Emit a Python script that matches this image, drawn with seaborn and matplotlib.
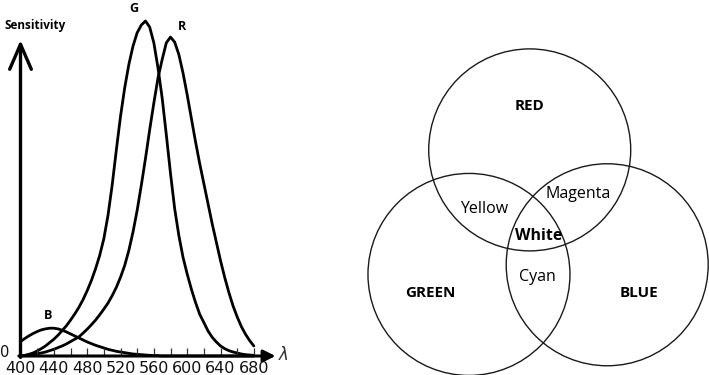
import numpy as np
import pandas as pd
import matplotlib
matplotlib.use("Agg")
import matplotlib.pyplot as plt
from matplotlib.patches import Circle
import seaborn as sns

# Cone sensitivity curves (G peak = 1)
wavelength = list(range(400, 685, 5))
green_sens = [0.0, 0.002, 0.005, 0.009, 0.015, 0.022, 0.03, 0.04, 0.05, 0.062,
              0.076, 0.09, 0.107, 0.125, 0.145, 0.168, 0.195, 0.225, 0.26, 0.30,
              0.35, 0.42, 0.51, 0.615, 0.715, 0.80, 0.87, 0.925, 0.965, 0.988,
              1.0, 0.982, 0.935, 0.86, 0.77, 0.66, 0.545, 0.44, 0.36, 0.295,
              0.245, 0.20, 0.16, 0.125, 0.10, 0.075, 0.056, 0.042, 0.03, 0.022,
              0.016, 0.012, 0.009, 0.006, 0.004, 0.003, 0.002]
red_sens = [0.0, 0.001, 0.003, 0.005, 0.007, 0.009, 0.012, 0.016, 0.02, 0.025,
            0.03, 0.036, 0.043, 0.05, 0.057, 0.068, 0.08, 0.093, 0.107, 0.123,
            0.14, 0.158, 0.18, 0.205, 0.235, 0.27, 0.315, 0.37, 0.435, 0.51,
            0.59, 0.675, 0.755, 0.83, 0.885, 0.935, 0.952, 0.937, 0.9, 0.845,
            0.78, 0.71, 0.64, 0.575, 0.515, 0.455, 0.395, 0.34, 0.285, 0.235,
            0.19, 0.15, 0.117, 0.088, 0.065, 0.046, 0.03]
blue_sens = [0.043, 0.052, 0.06, 0.067, 0.073, 0.078, 0.081, 0.083, 0.083, 0.081,
             0.077, 0.072, 0.066, 0.06, 0.054, 0.048, 0.042, 0.037, 0.032, 0.028,
             0.024, 0.02, 0.017, 0.014, 0.012, 0.01, 0.008, 0.006, 0.005, 0.004,
             0.003, 0.002, 0.001, 0.001, 0.0, 0.0, 0.0, 0.0, 0.0, 0.0,
             0.0, 0.0, 0.0, 0.0, 0.0, 0.0, 0.0, 0.0, 0.0, 0.0,
             0.0, 0.0, 0.0, 0.0, 0.0, 0.0, 0.0]
tick_marks = list(range(420, 700, 20))
tick_labels = list(range(400, 700, 40))

# Venn labels
set_names = ["RED", "GREEN", "BLUE"]
pair_names = ["Yellow", "Magenta", "Cyan"]
center_name = "White"

df = pd.DataFrame({
    "wavelength": wavelength * 3,
    "sensitivity": green_sens + red_sens + blue_sens,
    "cone": ["G"] * len(wavelength) + ["R"] * len(wavelength) + ["B"] * len(wavelength),
})

sns.set_theme(style="white")
plt.rcParams["font.family"] = ["DejaVu Sans"]
plt.rcParams["text.color"] = "black"

fig = plt.figure(figsize=(7.09, 3.75), dpi=100)

# ---- left: sensitivity curves ----
ax = fig.add_axes([0, 0, 300 / 709, 1])
ax.set_xlim(375.4, 735.4)
ax.set_ylim(-0.0567, 1.0627)
ax.axis("off")

sns.lineplot(data=df, x="wavelength", y="sensitivity", hue="cone",
             palette=["black"] * 3, legend=False, lw=2.0, ax=ax,
             solid_joinstyle="round", solid_capstyle="round")

# axes with arrows
ax.annotate("", xy=(400, 0.943), xytext=(400, -0.004),
            arrowprops=dict(arrowstyle="->,head_length=1.5,head_width=0.65",
                            lw=2.4, color="black", shrinkA=0, shrinkB=0))
ax.annotate("", xy=(706, 0), xytext=(398, 0),
            arrowprops=dict(arrowstyle="-|>,head_length=0.6,head_width=0.3",
                            lw=2.2, color="black", shrinkA=0, shrinkB=0))
ax.vlines(tick_marks, 0, 0.024, color="#333333", lw=0.9)
for t in tick_labels:
    ax.text(t, -0.037, str(t), ha="center", va="center", fontsize=11.5, color="#111111")
ax.text(381.0, 0.01, "0", ha="center", va="center", fontsize=10.5, color="#111111")
ax.text(716, 0.004, r"$\lambda$", ha="center", va="center", fontsize=12, color="#333333")

lfont = ["Open Sans", "DejaVu Sans"]
ax.text(417.4, 0.988, "Sensitivity", ha="center", va="center", fontsize=8.5,
        fontweight="bold", family=lfont)
ax.text(535.6, 1.036, "G", ha="center", va="center", fontsize=9,
        fontweight="bold", family=lfont)
ax.text(594, 0.985, "R", ha="center", va="center", fontsize=9,
        fontweight="bold", family=lfont)
ax.text(433, 0.122, "B", ha="center", va="center", fontsize=9,
        fontweight="bold", family=lfont)

# ---- right: additive colour Venn diagram ----
vx = fig.add_axes([360 / 709, 0, 349 / 709, 1])
vx.set_xlim(360, 709)
vx.set_ylim(375, 0)
vx.axis("off")

radius = 101
centroid = (535.3, 229.7)
spread = 80
rot = np.deg2rad(4)
angles = np.deg2rad([90, 210, 330]) + rot
for name, a in zip(set_names, angles):
    c = (centroid[0] + spread * np.cos(a), centroid[1] - spread * np.sin(a))
    vx.add_patch(Circle(c, radius, fill=False, ec="#1a1a1a", lw=1.0))

vfont = ["Open Sans", "DejaVu Sans"]
vx.text(529.3, 106, set_names[0], ha="center", va="center", fontsize=11,
        fontweight="bold", family=vfont)
vx.text(430.7, 293.3, set_names[1], ha="center", va="center", fontsize=11,
        fontweight="bold", family=vfont)
vx.text(639.3, 293.3, set_names[2], ha="center", va="center", fontsize=11,
        fontweight="bold", family=vfont)
vx.text(484, 209.3, pair_names[0], ha="center", va="center", fontsize=11.5, family=vfont)
vx.text(578.3, 194.3, pair_names[1], ha="center", va="center", fontsize=11.5, family=vfont)
vx.text(537.3, 276.7, pair_names[2], ha="center", va="center", fontsize=11.5, family=vfont)
vx.text(538.3, 236, center_name, ha="center", va="center", fontsize=11.5,
        fontweight="bold", family=vfont)

fig.savefig("out.png", dpi=100, facecolor="white")
